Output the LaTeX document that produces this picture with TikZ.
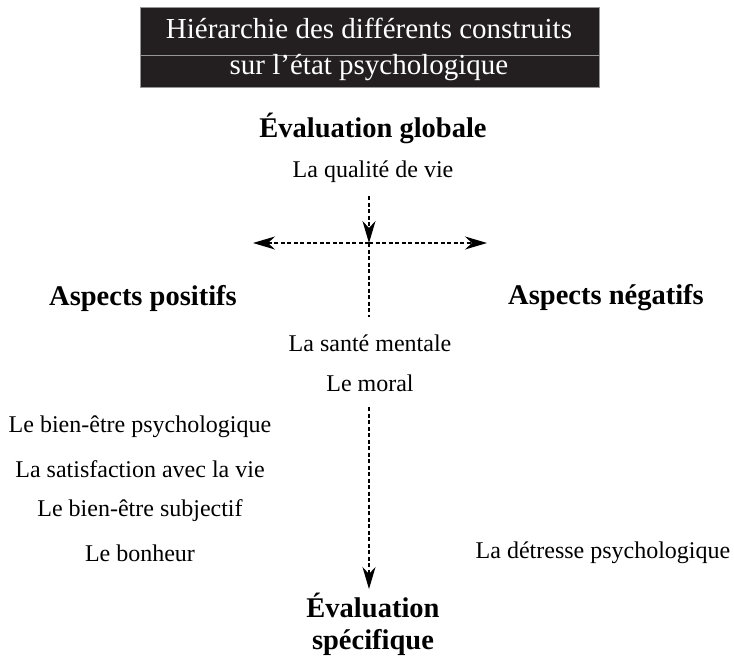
\documentclass[tikz,border=0pt]{standalone}
\usepackage{fontspec}
\setmainfont{Liberation Serif}
\usetikzlibrary{arrows.meta}
\definecolor{titelgrund}{RGB}{35,31,32}
\definecolor{titelstrich}{RGB}{150,150,150}

\begin{document}
\begin{tikzpicture}[x=1pt,y=-1pt,
    eintrag/.style={font=\fontsize{24}{28}\selectfont, inner sep=0pt},
    kopf/.style={font=\bfseries\fontsize{28.5}{32}\selectfont, inner sep=0pt, align=center},
    titelzeile/.style={text=white, font=\fontsize{29}{35}\selectfont, inner sep=0pt, anchor=base},
    pfeil/.style={dash pattern=on 4pt off 2.5pt, line width=1.2pt, -{Stealth[length=22pt,width=13pt,inset=7pt]}},
    strich/.style={dash pattern=on 4pt off 2.5pt, line width=1.2pt}]

    \useasboundingbox (0,0) rectangle (734,664);

    % Titel
    \draw[fill=titelgrund, draw=titelstrich, line width=1pt] (140,7) rectangle (599,87);
    \draw[titelstrich, line width=0.8pt] (140,55) -- (599,55);
    \node[titelzeile] (titeleins) at (369,38) {Hiérarchie des différents construits};
    \node[titelzeile] (titelzwei) at (369,74) {sur l’état psychologique};

    \node[kopf] (global) at (373,128) {Évaluation globale};
    \node[eintrag] (qualite) at (373,172) {La qualité de vie};

    \coordinate (kreuz) at (369,243);
    \coordinate (links) at (253,243);
    \coordinate (rechts) at (487,243);
    \coordinate (unten) at (369,317);
    \coordinate (spitze) at (369,589);

    \node[kopf] (positif) at (143,298) {Aspects positifs};
    \node[kopf] (negatif) at (606,298) {Aspects négatifs};

    \node[eintrag] (sante) at (370,343) {La santé mentale};
    \node[eintrag] (moral) at (370,383) {Le moral};

    \node[eintrag] (bienpsy) at (140,427) {Le bien-être psychologique};
    \node[eintrag] (satis) at (140,469) {La satisfaction avec la vie};
    \node[eintrag] (biensub) at (140,511) {Le bien-être subjectif};
    \node[eintrag] (bonheur) at (140,553) {Le bonheur};
    \node[eintrag] (detresse) at (603,553) {La détresse psychologique};

    \node[kopf] (specifique) at (373,624) {Évaluation\\spécifique};

    % Pfeile
    \draw[pfeil] (369,196) -- (kreuz);
    \draw[pfeil] (kreuz) -- (links);
    \draw[pfeil] (kreuz) -- (rechts);
    \draw[strich] (kreuz) -- (unten);
    \draw[pfeil] (369,407) -- (spitze);

\end{tikzpicture}
\end{document}
